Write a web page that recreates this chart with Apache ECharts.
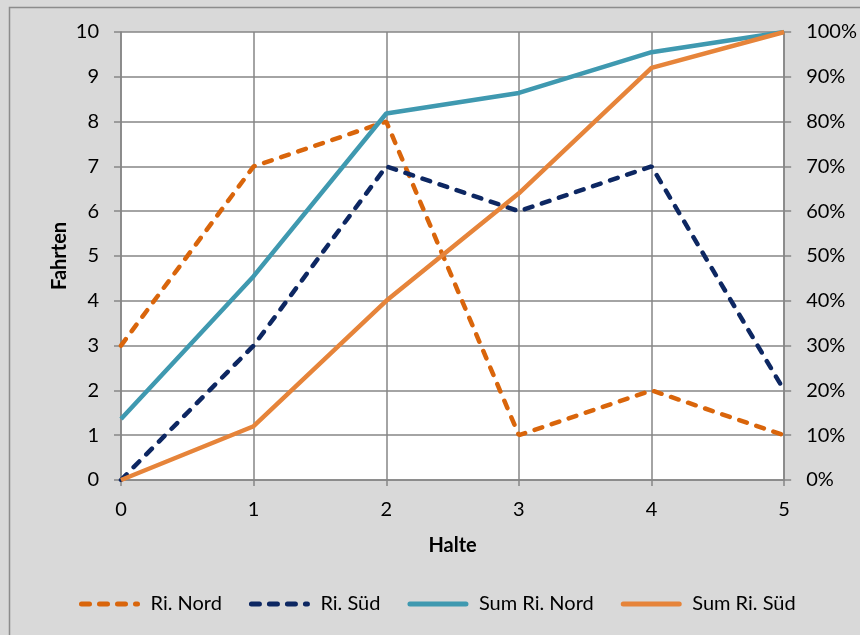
<!DOCTYPE html>
<html><head><meta charset="utf-8">
<script src="https://cdn.jsdelivr.net/npm/echarts@6/dist/echarts.min.js"></script>
<style>html,body{margin:0;padding:0;background:#d9d9d9}#c{width:860px;height:635px}</style>
</head><body><div id="c"></div>
<script>
const halte = [0, 1, 2, 3, 4, 5];
const riNord = [3, 7, 8, 1, 2, 1];
const riSued = [0, 3, 7, 6, 7, 2];
const sumRiNord = [13.6, 45.5, 81.8, 86.4, 95.5, 100];
const sumRiSued = [0, 12, 40, 64, 92, 100];
const leftTicks = [0, 10, 1];
const rightTicks = [0, 100, 10];

const FONT = 'Lato, "Open Sans", sans-serif';
const pair = (ys) => ys.map((y, i) => [halte[i], y]);
const chart = echarts.init(document.getElementById('c'));
chart.setOption({
  backgroundColor: '#d9d9d9',
  animation: false,
  textStyle: { fontFamily: FONT },
  graphic: [{
    type: 'rect', shape: { x: 9.5, y: 7.5, width: 860, height: 640 },
    style: { fill: 'none', stroke: '#8c8c8c', lineWidth: 1.5 }, z: -1
  }],
  grid: { left: 121, right: 75, top: 32, bottom: 155, show: true, backgroundColor: '#ffffff', borderWidth: 0 },
  xAxis: {
    type: 'value', min: halte[0], max: halte[halte.length - 1], interval: 1,
    name: 'Halte', nameLocation: 'middle', nameGap: 56, nameMoveOverlap: false,
    nameTextStyle: { fontFamily: FONT, fontWeight: 'bold', fontSize: 20, color: '#000' },
    axisLine: { show: true, lineStyle: { color: '#868686', width: 1.5 } },
    axisTick: { show: true, inside: false, length: 6, lineStyle: { color: '#868686', width: 1.5 } },
    axisLabel: { fontSize: 20, color: '#000', margin: 20 },
    splitLine: { show: true, lineStyle: { color: '#868686', width: 1.5 } }
  },
  yAxis: [{
    type: 'value', min: leftTicks[0], max: leftTicks[1], interval: leftTicks[2],
    name: 'Fahrten', nameLocation: 'middle', nameGap: 51, nameRotate: 90, nameMoveOverlap: false,
    nameTextStyle: { fontFamily: FONT, fontWeight: 'bold', fontSize: 20, color: '#000' },
    axisLine: { show: true, lineStyle: { color: '#868686', width: 1.5 } },
    axisTick: { show: true, length: 7, lineStyle: { color: '#868686', width: 1.5 } },
    axisLabel: { fontSize: 20, color: '#000', margin: 22 },
    splitLine: { show: true, lineStyle: { color: '#868686', width: 1.5 } }
  }, {
    type: 'value', min: rightTicks[0], max: rightTicks[1], interval: rightTicks[2], position: 'right',
    axisLine: { show: true, lineStyle: { color: '#868686', width: 1.5 } },
    axisTick: { show: true, length: 7, lineStyle: { color: '#868686', width: 1.5 } },
    axisLabel: { fontSize: 20, color: '#000', margin: 22, formatter: '{value}%' },
    splitLine: { show: false }
  }],
  legend: {
    top: 589, left: 74, itemWidth: 56, itemHeight: 14, itemGap: 27,
    itemStyle: { opacity: 0 },
    lineStyle: { width: 5, cap: 'round' },
    textStyle: { fontSize: 20, color: '#000', fontFamily: FONT, padding: [0, 0, 0, 8] },
    data: ['Ri. Nord', 'Ri. Süd', 'Sum Ri. Nord', 'Sum Ri. Süd']
  },
  series: [
    { name: 'Ri. Nord', type: 'line', yAxisIndex: 0, data: pair(riNord), showSymbol: false, symbol: 'none',
      color: '#d9650b', lineStyle: { color: '#d9650b', width: 4.5, type: [8, 10], cap: 'round' } },
    { name: 'Ri. Süd', type: 'line', yAxisIndex: 0, data: pair(riSued), showSymbol: false, symbol: 'none',
      color: '#0d2762', lineStyle: { color: '#0d2762', width: 4.5, type: [8, 10], cap: 'round' } },
    { name: 'Sum Ri. Nord', type: 'line', yAxisIndex: 1, data: pair(sumRiNord), showSymbol: false, symbol: 'none',
      color: '#3f99b0', lineStyle: { color: '#3f99b0', width: 4.5 } },
    { name: 'Sum Ri. Süd', type: 'line', yAxisIndex: 1, data: pair(sumRiSued), showSymbol: false, symbol: 'none',
      color: '#e6843a', lineStyle: { color: '#e6843a', width: 4.5 } }
  ]
});
</script></body></html>
